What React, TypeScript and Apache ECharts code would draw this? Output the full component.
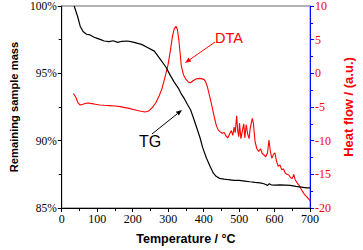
import React, { useEffect, useRef } from "react";
import * as echarts from "echarts";

// TG curve (Remaining sample mass, %)
const tgTemp = [35, 45, 52, 60, 70, 80, 90, 100, 110, 120, 133, 145, 158, 170, 184, 195, 209, 225, 243, 261, 278, 294, 304, 317, 330, 337, 346, 354, 363, 371, 380, 390, 397, 408, 418, 427, 435, 445, 457, 470, 485, 500, 516, 530, 545, 559, 570, 580, 585, 590, 601, 615, 630, 644, 660, 675, 690, 700];
const tgMass = [100, 99.2, 98.5, 98.1, 97.9, 97.85, 97.7, 97.6, 97.5, 97.4, 97.35, 97.42, 97.3, 97.38, 97.4, 97.35, 97.26, 97.15, 96.9, 96.65, 96.04, 95.45, 94.94, 94.35, 93.84, 93.47, 93.1, 92.7, 92.3, 91.7, 91.0, 90.2, 89.5, 88.7, 88.1, 87.6, 87.35, 87.2, 87.15, 87.1, 87.05, 87.05, 87.0, 86.95, 86.9, 86.87, 86.8, 86.68, 86.8, 86.72, 86.7, 86.72, 86.7, 86.68, 86.6, 86.55, 86.5, 86.5];

// DTA curve (Heat flow, a.u.)
const dtaTemp = [33, 40, 46, 52, 60, 68, 75, 85, 95, 107, 120, 135, 150, 165, 175, 190, 205, 220, 235, 245, 255, 265, 275, 282, 290, 299, 306, 312, 317, 322, 326, 330, 334, 337, 343, 350, 357, 363, 370, 380, 390, 401, 406, 410, 416, 423, 430, 436, 441, 447, 452, 458, 463, 468, 473, 478, 482, 486, 489, 493, 496, 499, 501, 505, 510, 513, 516, 520, 524, 528, 531, 537, 540, 545, 550, 555, 560, 565, 570, 575, 580, 584, 588, 592, 597, 601, 605, 610, 615, 620, 625, 630, 635, 640, 645, 650, 654, 658, 664, 670, 678, 686, 695, 700];
const dtaFlow = [-3.0, -3.6, -4.4, -4.7, -4.6, -4.45, -4.4, -4.5, -4.6, -4.7, -4.75, -4.8, -4.85, -4.95, -5.05, -5.2, -5.4, -5.6, -5.75, -5.6, -5.1, -4.4, -3.3, -2.35, -0.8, 1.1, 3.3, 5.5, 6.6, 7.0, 6.5, 5.0, 2.8, 1.1, -0.2, -0.9, -1.3, -1.4, -1.1, -0.8, -0.75, -0.9, -1.3, -1.9, -3.2, -4.8, -6.5, -7.8, -8.4, -8.7, -8.9, -8.8, -9.3, -9.6, -9.0, -8.5, -9.2, -8.0, -8.8, -6.3, -8.6, -9.4, -7.4, -9.7, -8.3, -7.5, -9.6, -7.6, -9.0, -9.7, -8.2, -6.7, -7.4, -10.2, -11.2, -11.6, -11.2, -11.9, -12.1, -12.4, -11.8, -9.9, -11.6, -12.6, -12.0, -11.8, -13.0, -13.8, -13.6, -14.3, -14.2, -14.8, -15.0, -15.1, -15.5, -15.6, -15.0, -15.8, -16.3, -16.7, -17.5, -18.1, -18.6, -18.9];

const tempTicks = { min: 0, max: 700, interval: 100 };
const massTicks = { min: 85, max: 100, interval: 5 };
const flowTicks = { min: -20, max: 10, interval: 5 };

const RED = "#ff0000";
const BLUE = "#0000ff";
const SERIF = "'Liberation Serif', 'Times New Roman', serif";
const SANS = "'Liberation Sans', Arial, sans-serif";

function arrow(x1: number, y1: number, x2: number, y2: number, color: string) {
  const dx = x2 - x1;
  const dy = y2 - y1;
  const len = Math.sqrt(dx * dx + dy * dy);
  const ux = dx / len;
  const uy = dy / len;
  const hl = 6;
  const hw = 2.4;
  const bx = x2 - ux * hl;
  const by = y2 - uy * hl;
  return {
    type: "group",
    children: [
      { type: "line", shape: { x1, y1, x2: bx, y2: by }, style: { stroke: color, lineWidth: 1 } },
      {
        type: "polygon",
        shape: { points: [[x2, y2], [bx - uy * hw, by + ux * hw], [bx + uy * hw, by - ux * hw]] },
        style: { fill: color },
      },
    ],
  };
}

export default function App() {
  const ref = useRef<HTMLDivElement>(null);
  useEffect(() => {
    if (!ref.current) return;
    const chart = echarts.init(ref.current, null, { renderer: "svg" });
    const tgData = tgTemp.map((t, i) => [t, tgMass[i]]);
    const dtaData = dtaTemp.map((t, i) => [t, dtaFlow[i]]);
    chart.setOption({
      animation: false,
      backgroundColor: "#ffffff",
      grid: { left: 48, right: 41, top: 6, bottom: 39.5, show: true, borderColor: "#666", borderWidth: 1, backgroundColor: "transparent" },
      xAxis: {
        type: "value",
        ...tempTicks,
        name: "Temperature / °C",
        nameLocation: "middle",
        nameGap: 24,
        nameTextStyle: { fontFamily: SANS, fontWeight: "bold", fontSize: 12.5, color: "#000" },
        axisLine: { onZero: false, lineStyle: { color: "#000", width: 1 } },
        axisTick: { length: 4, lineStyle: { color: "#000" } },
        minorTick: { show: true, splitNumber: 2, length: 3, lineStyle: { color: "#000" } },
        splitLine: { show: false },
        axisLabel: { fontFamily: SERIF, fontSize: 12, color: "#000", margin: 5 },
      },
      yAxis: [
        {
          type: "value",
          ...massTicks,
          position: "left",
          name: "Remaining sample mass",
          nameLocation: "middle",
          nameGap: 37,
          nameTextStyle: { fontFamily: SANS, fontWeight: "bold", fontSize: 11.2, color: "#000" },
          axisLine: { show: true, onZero: false, lineStyle: { color: "#000", width: 1 } },
          axisTick: { show: true, length: 4, lineStyle: { color: "#000" } },
          minorTick: { show: true, splitNumber: 2, length: 3, lineStyle: { color: "#000" } },
          splitLine: { show: false },
          axisLabel: { fontFamily: SERIF, fontSize: 11.5, color: "#000", margin: 5, formatter: "{value}%" },
        },
        {
          type: "value",
          ...flowTicks,
          position: "right",
          name: "Heat flow / (a.u.)",
          nameLocation: "middle",
          nameGap: 28,
          nameRotate: 90,
          nameTextStyle: { fontFamily: SANS, fontWeight: "bold", fontSize: 13, color: RED },
          axisLine: { show: true, onZero: false, lineStyle: { color: BLUE, width: 1 } },
          axisTick: { show: true, length: 4, lineStyle: { color: BLUE } },
          minorTick: { show: true, splitNumber: 2, length: 3, lineStyle: { color: BLUE } },
          splitLine: { show: false },
          axisLabel: { fontFamily: SERIF, fontSize: 12, color: RED, margin: 5 },
        },
      ],
      series: [
        {
          name: "TG",
          type: "line",
          yAxisIndex: 0,
          data: tgData,
          showSymbol: false,
          symbol: "none",
          lineStyle: { color: "#000", width: 1.2 },
          clip: true,
          z: 3,
        },
        {
          name: "DTA",
          type: "line",
          yAxisIndex: 1,
          data: dtaData,
          showSymbol: false,
          symbol: "none",
          lineStyle: { color: RED, width: 1.1 },
          clip: true,
          z: 2,
        },
      ],
      graphic: [
        { type: "text", x: 229, y: 38, style: { text: "DTA", fill: RED, font: `14.5px ${SANS}`, align: "center", verticalAlign: "middle" } },
        arrow(215, 42, 185, 63, RED),
        { type: "text", x: 150, y: 141, style: { text: "TG", fill: "#000", font: `16px ${SANS}`, align: "center", verticalAlign: "middle" } },
        arrow(152, 134, 182, 110, "#000"),
      ],
    });
    return () => chart.dispose();
  }, []);
  return <div ref={ref} style={{ position: "fixed", left: 0, top: 0, width: 363, height: 250 }} />;
}
